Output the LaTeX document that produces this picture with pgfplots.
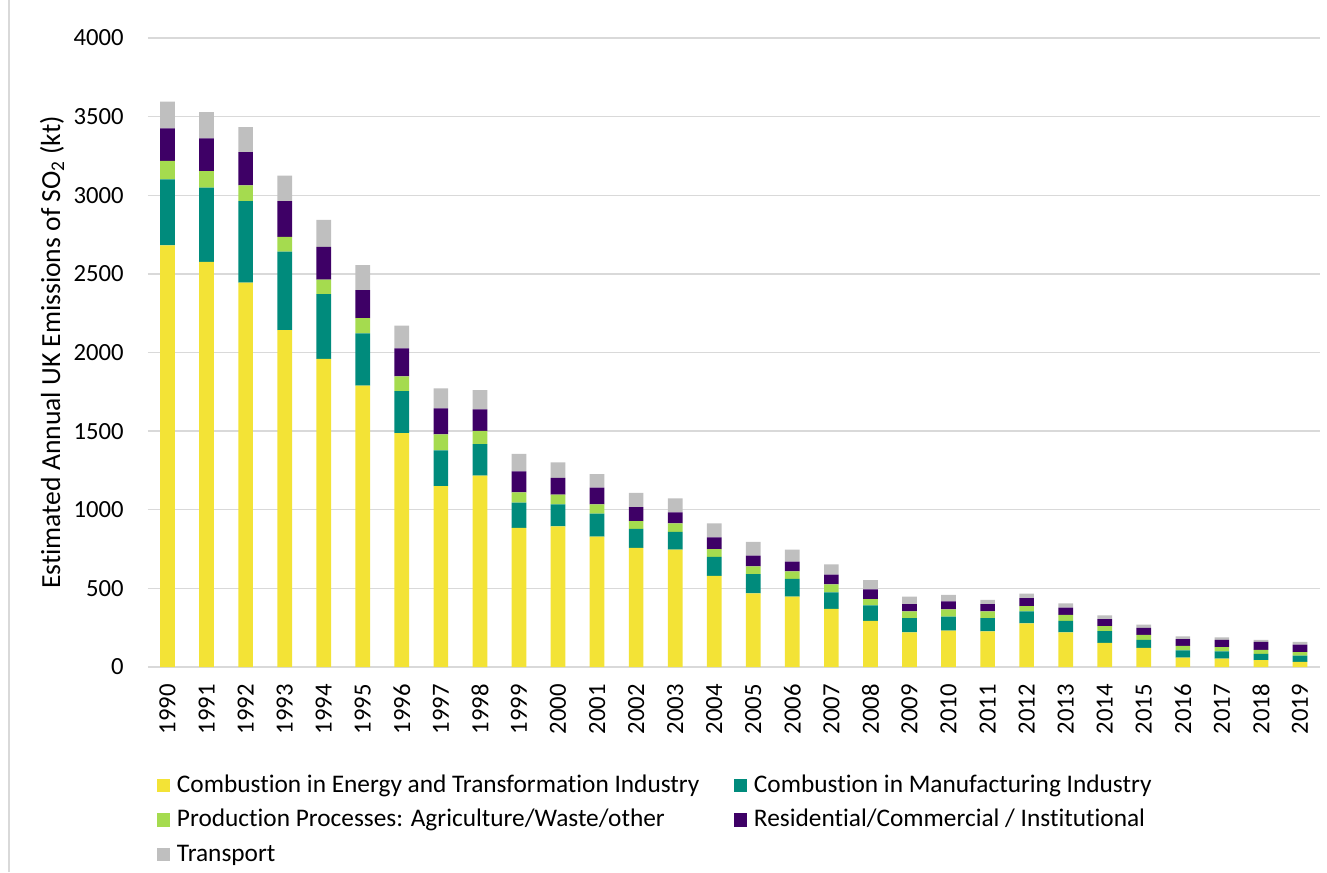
\documentclass[border=0pt]{standalone}
\usepackage{pgfplots}
\pgfplotsset{compat=1.18}
\usepackage{pgfplotstable}
\usepackage{fontspec}
\setmainfont{Carlito}[Ligatures=NoCommon]
\definecolor{cEnergy}{HTML}{F3E336}
\definecolor{cManu}{HTML}{008B7C}
\definecolor{cProd}{HTML}{A5DB4F}
\definecolor{cRes}{HTML}{3E0066}
\definecolor{cTrans}{HTML}{BFBFBF}
\definecolor{cGrid}{HTML}{D9D9D9}
\pgfplotstableread{
x e m p r t
0 2682 419 117 208 169
1 2576 472 106 208 167
2 2444 519 100 212 159
3 2143 498 95 227 162
4 1959 413 91 208 172
5 1789 333 97 178 159
6 1488 267 93 178 145
7 1151 227 102 165 127
8 1217 201 83 138 121
9 884 161 66 133 111
10 895 140 61 106 100
11 829 146 60 105 87
12 757 121 50 89 90
13 746 113 55 70 89
14 579 122 49 75 89
15 468 123 49 68 87
16 447 113 48 62 76
17 369 106 51 61 66
18 293 99 40 62 59
19 221 90 42 47 48
20 232 89 45 51 42
21 226 85 42 47 27
22 277 76 34 51 28
23 221 73 38 45 27
24 154 74 32 44 24
25 122 51 32 44 20
26 60 45 30 42 17
27 54 45 27 47 16
28 43 41 25 51 13
29 33 40 21 49 17
}\datatable
\newcommand{\LA}[1]{\makebox[417.75pt][l]{\rule[-7pt]{0pt}{25.9pt}#1}}
\newcommand{\LB}[1]{\makebox[300pt][l]{\rule[-7pt]{0pt}{25.9pt}#1}}
\begin{document}
\begin{tikzpicture}
\useasboundingbox (0,0) rectangle (995.25pt,654pt);
\draw[cGrid, line width=0.8pt] (6.75pt,0) -- (6.75pt,654pt);
\begin{axis}[
  at={(111pt,153.75pt)}, anchor=south west,
  scale only axis, width=878.625pt, height=471.75pt,
  ybar stacked, bar width=11pt,
  xmin=-0.5, xmax=29.5, ymin=0, ymax=4000,
  ytick={0,500,...,4000},
  xtick={0,...,29},
  xticklabels={1990,1991,1992,1993,1994,1995,1996,1997,1998,1999,2000,2001,2002,2003,2004,2005,2006,2007,2008,2009,2010,2011,2012,2013,2014,2015,2016,2017,2018,2019},
  major tick length=0pt,
  axis x line*=bottom, axis y line*=left,
  x axis line style={cGrid, line width=1pt, -},
  y axis line style={draw=none},
  ymajorgrids, grid style={cGrid, line width=1pt},
  /pgf/number format/assume math mode=true,
  /pgf/number format/1000 sep={},
  tick label style={font=\fontsize{18.5}{22}\selectfont, text=black},
  yticklabel style={anchor=east, inner sep=0pt, xshift=-18pt},
  xticklabel style={yshift=-12.75pt, rotate=90, anchor=east, inner sep=0pt},
  ylabel={Estimated Annual UK Emissions of SO\textsubscript{2} (kt)},
  ylabel style={at={(axis description cs:-0.0819,0.5)}, anchor=center, font=\fontsize{20.7}{24}\selectfont},
  legend columns=2,
  legend style={draw=none, fill=none, inner sep=0pt, outer sep=0pt,
    at={(0.00768,-0.1588)}, anchor=north west,
    font=\fontsize{19}{23}\selectfont,
    column sep=0pt, row sep=5.6pt,
    /tikz/every odd column/.style={column sep=5pt},
    nodes={inner sep=0pt}},
  legend cell align=left,
  legend image code/.code={\fill[#1] (0pt,-8.7pt) rectangle (10pt,1.3pt);},
]
\addplot[fill=cEnergy, draw=none] table[x=x,y=e]{\datatable};
\addlegendentry{\LA{Combustion in Energy and Transformation Industry}}
\addplot[fill=cManu, draw=none] table[x=x,y=m]{\datatable};
\addlegendentry{\LB{Combustion in Manufacturing Industry}}
\addplot[fill=cProd, draw=none] table[x=x,y=p]{\datatable};
\addlegendentry{\LA{Production Processes: Agriculture/Waste/other}}
\addplot[fill=cRes, draw=none] table[x=x,y=r]{\datatable};
\addlegendentry{\LB{Residential/Commercial / Institutional}}
\addplot[fill=cTrans, draw=none] table[x=x,y=t]{\datatable};
\addlegendentry{\LA{Transport}}
\end{axis}
\end{tikzpicture}
\end{document}
